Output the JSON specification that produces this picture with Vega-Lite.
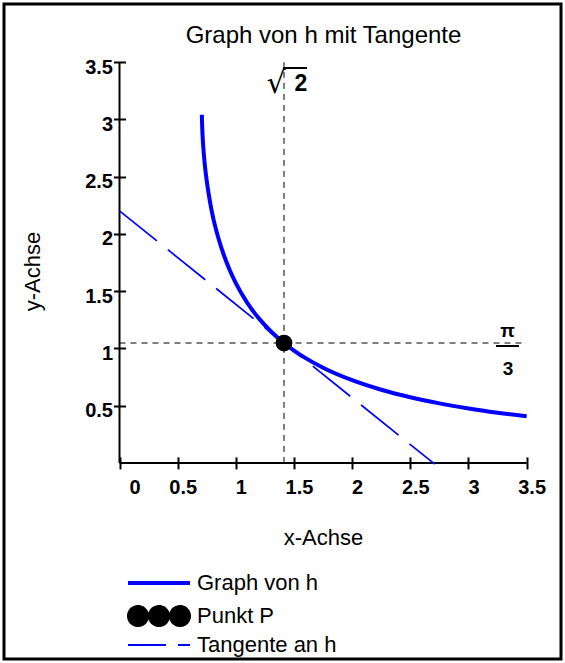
{
  "$schema": "https://vega.github.io/schema/vega-lite/v6.json",
  "width": 557,
  "height": 655,
  "padding": 4,
  "autosize": {"type": "none"},
  "background": "white",
  "config": {"view": {"stroke": "black", "strokeWidth": 3}, "font": "Liberation Sans"},
  "title": {"text": "Graph von h mit Tangente", "fontSize": 24, "fontWeight": "normal", "font": "Liberation Sans", "color": "black", "anchor": "middle", "frame": "group", "offset": 0, "baseline": "alphabetic", "dx": 41, "dy": 63},
  "datasets": {
    "curve": [
      {"x": 0.708, "y": 3.0411, "series": "Graph von h"},
      {"x": 0.71, "y": 2.961, "series": "Graph von h"},
      {"x": 0.715, "y": 2.8442, "series": "Graph von h"},
      {"x": 0.72, "y": 2.7625, "series": "Graph von h"},
      {"x": 0.73, "y": 2.6394, "series": "Graph von h"},
      {"x": 0.74, "y": 2.543, "series": "Graph von h"},
      {"x": 0.75, "y": 2.4619, "series": "Graph von h"},
      {"x": 0.775, "y": 2.2982, "series": "Graph von h"},
      {"x": 0.8, "y": 2.1652, "series": "Graph von h"},
      {"x": 0.85, "y": 1.965, "series": "Graph von h"},
      {"x": 0.9, "y": 1.8076, "series": "Graph von h"},
      {"x": 0.95, "y": 1.679, "series": "Graph von h"},
      {"x": 1.0, "y": 1.5708, "series": "Graph von h"},
      {"x": 1.1, "y": 1.3964, "series": "Graph von h"},
      {"x": 1.2, "y": 1.2603, "series": "Graph von h"},
      {"x": 1.3, "y": 1.1502, "series": "Graph von h"},
      {"x": 1.414214, "y": 1.0472, "series": "Graph von h"},
      {"x": 1.5, "y": 0.9818, "series": "Graph von h"},
      {"x": 1.6, "y": 0.9155, "series": "Graph von h"},
      {"x": 1.75, "y": 0.8319, "series": "Graph von h"},
      {"x": 2.0, "y": 0.7227, "series": "Graph von h"},
      {"x": 2.25, "y": 0.6394, "series": "Graph von h"},
      {"x": 2.5, "y": 0.5735, "series": "Graph von h"},
      {"x": 2.75, "y": 0.5201, "series": "Graph von h"},
      {"x": 3.0, "y": 0.4759, "series": "Graph von h"},
      {"x": 3.25, "y": 0.4387, "series": "Graph von h"},
      {"x": 3.5, "y": 0.4069, "series": "Graph von h"}
    ],
    "tangent": [{"x": 0, "y": 2.2019}, {"x": 2.71, "y": -0.011}],
    "point": [{"x": 1.414214, "y": 1.047198}],
    "guides": [
      {"x": 1.414214, "x2": 1.414214, "y": 0, "y2": 3.5},
      {"x": 0, "x2": 3.5, "y": 1.047198, "y2": 1.047198}
    ],
    "axes": [
      {"x": 0, "x2": 3.5, "y": 0, "y2": 0},
      {"x": 0, "x2": 0, "y": 0, "y2": 3.5}
    ],
    "bars": [
      {"x": 1.405, "x2": 1.612, "y": 3.45, "y2": 3.45},
      {"x": 3.236, "x2": 3.434, "y": 1.021, "y2": 1.021}
    ],
    "radical": [{"x": 1.345, "y": 3.31, "t": "√"}],
    "two": [{"x": 1.56, "y": 3.31, "t": "2"}],
    "frac": [{"x": 3.335, "y": 1.152, "t": "π"}, {"x": 3.34, "y": 0.82, "t": "3"}]
  },
  "encoding": {
    "x": {
      "field": "x", "type": "quantitative",
      "scale": {"domain": [-0.9929, 3.7953], "nice": false, "zero": false},
      "axis": {
        "title": "x-Achse", "values": [0, 0.5, 1, 1.5, 2, 2.5, 3, 3.5], "format": ".1~f",
        "grid": false, "domain": false, "offset": -202.1,
        "tickSize": 12, "tickWidth": 2, "tickColor": "black",
        "labelFont": "Liberation Sans", "labelFontWeight": "bold", "labelFontSize": 20, "labelColor": "black",
        "labelPadding": 9,
        "labelOffset": {"condition": {"test": "datum.value === 0", "value": 15}, "value": 5},
        "labelFlush": false, "labelOverlap": false,
        "titleFont": "Liberation Sans", "titleFontWeight": "normal", "titleFontSize": 22, "titleColor": "black",
        "titleX": 319, "titleY": 88, "titleBaseline": "alphabetic", "titleAlign": "center"
      }
    },
    "y": {
      "field": "y", "type": "quantitative",
      "scale": {"domain": [-1.7131, 4.0089], "nice": false, "zero": false},
      "axis": {
        "title": "y-Achse", "values": [0.5, 1, 1.5, 2, 2.5, 3, 3.5], "format": ".1~f",
        "grid": false, "domain": false, "offset": -121.5,
        "tickSize": 12, "tickWidth": 2, "tickColor": "black",
        "labelFont": "Liberation Sans", "labelFontWeight": "bold", "labelFontSize": 20, "labelColor": "black",
        "labelPadding": 1, "labelOffset": 5, "labelBaseline": "middle",
        "labelFlush": false, "labelOverlap": false,
        "titleFont": "Liberation Sans", "titleFontWeight": "normal", "titleFontSize": 22, "titleColor": "black",
        "titleX": -86.5, "titleY": 267, "titleBaseline": "alphabetic", "titleAngle": -90, "titleAlign": "center"
      }
    }
  },
  "layer": [
    {
      "data": {"name": "guides"},
      "mark": {"type": "rule", "strokeDash": [6, 5], "strokeWidth": 1, "color": "black"},
      "encoding": {"x2": {"field": "x2"}, "y2": {"field": "y2"}}
    },
    {
      "data": {"name": "axes"},
      "mark": {"type": "rule", "strokeWidth": 2, "color": "black"},
      "encoding": {"x2": {"field": "x2"}, "y2": {"field": "y2"}}
    },
    {
      "data": {"name": "tangent"},
      "mark": {"type": "line", "strokeDash": [48, 14], "strokeWidth": 1.7, "color": "#0000ff"}
    },
    {
      "data": {"name": "curve"},
      "mark": {"type": "line", "strokeWidth": 4, "interpolate": "monotone"},
      "encoding": {
        "color": {
          "field": "series", "type": "nominal",
          "scale": {"domain": ["Graph von h", "Punkt P", "Tangente an h"], "range": ["#0000ff", "#000000", "#0000ff"]},
          "legend": {
            "title": null, "orient": "none", "legendX": 144, "legendY": 568, "direction": "vertical",
            "padding": 0, "symbolSize": 400, "symbolType": "stroke",
            "labelFont": "Liberation Sans", "labelFontSize": 22, "labelColor": "black", "labelOffset": 27,
            "rowPadding": -8, "labelLimit": 300,
            "encode": {
              "symbols": {
                "update": {
                  "shape": {"signal": "datum.value === 'Punkt P' ? 'M-3.1,-1.4M3.1,1.4M-3.1,0A1,1,0,1,1,-1.1,0A1,1,0,1,1,-3.1,0ZM-1,0A1,1,0,1,1,1,0A1,1,0,1,1,-1,0ZM1.1,0A1,1,0,1,1,3.1,0A1,1,0,1,1,1.1,0Z' : 'M-3.1,-1.4M3.1,1.4M-3.1,0L3.1,0'"},
                  "fill": {"signal": "datum.value === 'Punkt P' ? 'black' : 'transparent'"},
                  "stroke": {"signal": "datum.value === 'Punkt P' ? 'transparent' : '#0000ff'"},
                  "strokeWidth": {"signal": "datum.value === 'Graph von h' ? 4 : 2"},
                  "strokeDash": {"signal": "datum.value === 'Tangente an h' ? [38, 12, 12, 100] : [1, 0]"},
                  "opacity": {"value": 1}
                }
              }
            }
          }
        }
      }
    },
    {
      "data": {"name": "point"},
      "mark": {"type": "circle", "size": 280, "color": "black", "opacity": 1}
    },
    {
      "data": {"name": "bars"},
      "mark": {"type": "rule", "strokeWidth": 2, "color": "black"},
      "encoding": {"x2": {"field": "x2"}, "y2": {"field": "y2"}}
    },
    {
      "data": {"name": "radical"},
      "mark": {"type": "text", "font": "DejaVu Sans", "fontSize": 30, "align": "center", "baseline": "middle", "color": "black"},
      "encoding": {"text": {"field": "t"}}
    },
    {
      "data": {"name": "two"},
      "mark": {"type": "text", "font": "Liberation Sans", "fontWeight": "bold", "fontSize": 23, "align": "center", "baseline": "middle", "color": "black"},
      "encoding": {"text": {"field": "t"}}
    },
    {
      "data": {"name": "frac"},
      "mark": {"type": "text", "font": "Liberation Sans", "fontWeight": "bold", "fontSize": 19, "align": "center", "baseline": "middle", "color": "black"},
      "encoding": {"text": {"field": "t"}}
    }
  ]
}
